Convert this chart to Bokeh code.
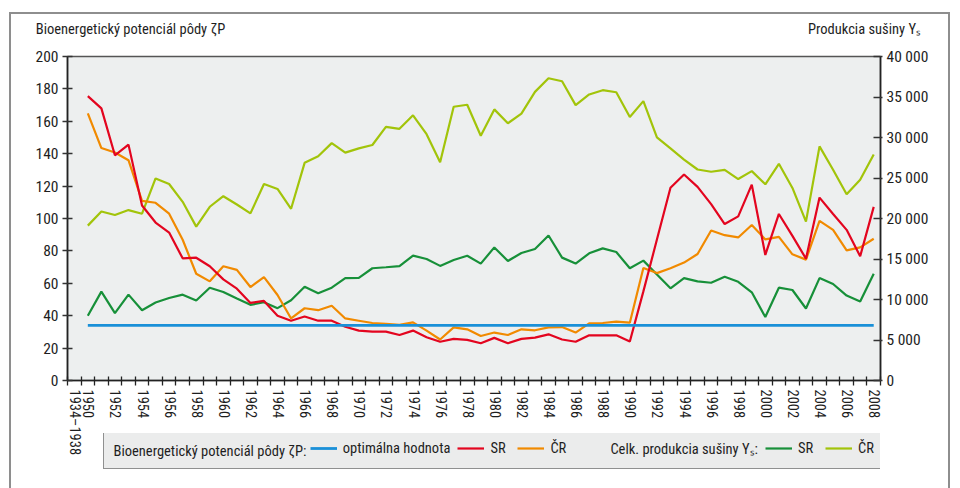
from bokeh.plotting import figure
from bokeh.layouts import column
from bokeh.models import Range1d, LinearAxis, FixedTicker, Legend, LegendItem, Label
from bokeh.embed import file_html
from bokeh.resources import INLINE

# ---------------- data ----------------
categories = ["1934–1938"] + [str(y) for y in range(1950, 2009)]
years = [str(y) for y in range(1950, 2009)]
labeled = ["1934–1938"] + [str(y) for y in range(1950, 2009, 2)]

# Bioenergetický potenciál pôdy (left axis)
optimal_value = 34
bp_sr = [175.5, 168, 139, 145.6, 108, 97.5, 91.3, 75.4, 75.8, 70.5,
         62.4, 56.7, 47.9, 49.1, 40, 36.9, 39.5, 36.9, 36.9, 33.2,
         30.8, 30.2, 30.2, 28.1, 30.8, 26.7, 23.9, 25.7, 25.1, 23,
         26.3, 23, 25.7, 26.5, 28.5, 25.3, 23.9, 27.9, 27.9, 27.9,
         24.1, 55, 87, 119, 127.2, 119.5, 108.9, 96.6, 101.3, 120.9,
         77.5, 102.8, 89.3, 75.2, 112.9, 102.8, 93, 76.7, 107.2]
bp_cr = [164.9, 143.5, 140.7, 136, 110.9, 109.7, 103, 86.9, 65.9, 61.2,
         70.5, 68.3, 57.7, 63.8, 52.8, 38.3, 44.6, 43.4, 46.1, 38.3,
         36.9, 35.5, 34.9, 34.3, 35.9, 30.8, 25.3, 32.8, 31.6, 27.5,
         29.6, 28.1, 31.6, 31, 32.8, 33, 29.6, 35.3, 35.5, 36.3,
         35.7, 69.5, 66.3, 69.3, 72.8, 78.1, 92.6, 89.7, 88.3, 96,
         87.1, 88.7, 77.9, 74.6, 98.5, 93, 80.3, 82.2, 87.5]

# Celková produkcia sušiny (right axis)
ys_sr = [7990, 10970, 8320, 10600, 8680, 9620, 10190, 10600, 9870, 11460,
         10930, 10110, 9340, 9660, 8930, 9910, 11580, 10760, 11460, 12640,
         12680, 13860, 13980, 14110, 15410, 15000, 14150, 14880, 15410, 14430,
         16430, 14760, 15740, 16230, 17900, 15170, 14430, 15700, 16310, 15860,
         13860, 14800, 13090, 11380, 12640, 12230, 12070, 12800, 12190, 10890,
         7830, 11460, 11170, 8890, 12640, 11910, 10480, 9740, 13170]
ys_cr = [19120, 20870, 20430, 21040, 20590, 24950, 24260, 22060, 19000, 21450,
         22750, 21730, 20630, 24260, 23650, 21200, 26870, 27680, 29310, 28130,
         28660, 29070, 31310, 31070, 32740, 30410, 26950, 33800, 34040, 30210,
         33470, 31760, 32940, 35630, 37310, 36940, 34000, 35310, 35840, 35590,
         32540, 34490, 30010, 28660, 27280, 26050, 25770, 26010, 24870, 25850,
         24220, 26750, 23770, 19610, 28910, 26010, 22990, 24790, 27890]

left_ticks = list(range(0, 201, 20))
right_ticks = list(range(0, 40001, 5000))

left_title = "Bioenergetický potenciál pôdy ζP"
right_title = "Produkcia sušiny Yₛ"
legend_title = "Bioenergetický potenciál pôdy ζP:"

# ---------------- style ----------------
FONT = "Roboto Condensed"
TXT = "#1e1e1e"
C_OPT = "#1a90d8"
C_SR = "#e3051f"
C_CR = "#f18a00"
C_YSR = "#179039"
C_YCR = "#a2c40a"
FS = 14.5
GRAY = "#8e8e8e"

W, H = 952, 458
BL, BR, BT, BB = 67, 72, 56, 75
LEG_H, LEG_OVERLAP = 55, 25
CAP_H, CAP_SHIFT = 20, 47

xs = [categories.index(y) for y in years]
x0, x1 = -0.5, len(categories) - 0.5

p = figure(width=W, height=H, title=None,
           x_range=Range1d(x0, x1), y_range=Range1d(0, 200),
           output_backend="svg", toolbar_location=None,
           min_border_left=BL, min_border_right=BR,
           min_border_top=BT, min_border_bottom=BB,
           background_fill_color="#edefef",
           border_fill_color="white", border_fill_alpha=0)
p.extra_y_ranges = {"prod": Range1d(0, 40000)}
p.grid.visible = False
p.outline_line_color = "#555555"
p.outline_line_width = 1.5

# x axis
xa = p.xaxis[0]
xa.ticker = FixedTicker(ticks=[categories.index(c) for c in labeled],
                        minor_ticks=[i - 0.5 for i in range(len(categories) + 1)])
xa.major_label_overrides = {categories.index(c): c for c in labeled}
xa.major_label_orientation = "vertical"
xa.major_tick_line_color = None
xa.major_tick_out = 4
xa.major_tick_in = 0
xa.major_label_standoff = 4
xa.minor_tick_in = 4
xa.minor_tick_out = 5
xa.minor_tick_line_color = "#222222"
xa.minor_tick_line_width = 1.3
xa.axis_line_color = "#222222"
xa.axis_line_width = 1.6
xa.major_label_text_font = FONT
xa.major_label_text_font_size = "14.5px"
xa.major_label_text_color = TXT

# left axis
ya = p.yaxis[0]
ya.ticker = FixedTicker(ticks=left_ticks)
ya.major_tick_in = 5
ya.major_tick_out = 5
ya.major_tick_line_color = "#333333"
ya.major_tick_line_width = 1.3
ya.minor_tick_line_color = None
ya.axis_line_color = "#222222"
ya.axis_line_width = 1.6
ya.major_label_standoff = 4
ya.major_label_text_font = FONT
ya.major_label_text_font_size = "15.5px"
ya.major_label_text_color = TXT

# right axis
ra = LinearAxis(y_range_name="prod", ticker=FixedTicker(ticks=right_ticks))
ra.major_label_overrides = {v: f"{v:,}".replace(",", " ") for v in right_ticks}
ra.major_tick_in = 7
ra.major_tick_out = 2
ra.major_tick_line_color = "#333333"
ra.major_tick_line_width = 1.3
ra.minor_tick_line_color = None
ra.axis_line_color = "#222222"
ra.axis_line_width = 1.6
ra.major_label_standoff = 4
ra.major_label_text_font = FONT
ra.major_label_text_font_size = "15.5px"
ra.major_label_text_color = TXT
p.add_layout(ra, "right")

# axis headings: an unlabeled top axis whose two tick labels are the headings
frame_w = W - BL - BR
to_x = lambda px: x0 + (px - BL) / frame_w * (x1 - x0)
W1_EST, W2_EST = 190, 110
t_left = round(to_x(35 + W1_EST / 2), 3)
t_right = round(to_x(919 - W2_EST / 2), 3)
ha = LinearAxis(ticker=FixedTicker(ticks=[t_left, t_right], minor_ticks=[]))
ha.major_label_overrides = {t_left: left_title, t_right: right_title}
ha.axis_line_color = None
ha.major_tick_line_color = None
ha.minor_tick_line_color = None
ha.major_tick_in = 0
ha.major_tick_out = 0
ha.major_label_standoff = 19
ha.major_label_text_font = FONT
ha.major_label_text_font_size = f"{FS}px"
ha.major_label_text_color = TXT
p.add_layout(ha, "above")

# series
p.line(xs, ys_cr, y_range_name="prod", line_color=C_YCR, line_width=2.2)
p.line(xs, ys_sr, y_range_name="prod", line_color=C_YSR, line_width=2.2)
p.line(xs, bp_cr, line_color=C_CR, line_width=2.2)
p.line(xs, bp_sr, line_color=C_SR, line_width=2.2)
p.line([xs[0], xs[-1]], [optimal_value, optimal_value], line_color=C_OPT, line_width=2.8)

# ---------------- legend strip (second figure, overlapping the axis area) ----------------
q = figure(width=W, height=LEG_H, x_range=Range1d(BL, W - BR), y_range=Range1d(0, LEG_H),
           output_backend="svg", toolbar_location=None,
           x_axis_location=None, y_axis_location=None,
           min_border_left=BL, min_border_right=BR, min_border_top=0, min_border_bottom=0,
           background_fill_alpha=0, border_fill_alpha=0)
q.outline_line_color = None
q.grid.visible = False
q.styles = {"margin-top": f"-{LEG_OVERLAP}px"}

# legend swatch renderers (kept outside the visible range)
off = dict(x=[-9999, -9998], y=[-9999, -9999])
k_opt = q.line(**off, line_color=C_OPT, line_width=2.8)
k_sr = q.line(**off, line_color=C_SR, line_width=2.2)
k_cr = q.line(**off, line_color=C_CR, line_width=2.2)
k_ysr = q.line(**off, line_color=C_YSR, line_width=2.2)
k_ycr = q.line(**off, line_color=C_YCR, line_width=2.2)
k_none = q.line(**off, line_alpha=0)

spacer = "\u2002" * 24   # room for the group caption drawn on top
legend = Legend(items=[
    LegendItem(label=spacer, renderers=[k_none]),
    LegendItem(label="optimálna hodnota", renderers=[k_opt]),
    LegendItem(label="SR", renderers=[k_sr]),
    LegendItem(label="ČR", renderers=[k_cr]),
    LegendItem(label="Celk. produkcia sušiny Yₛ:", renderers=[k_none]),
    LegendItem(label="SR", renderers=[k_ysr]),
    LegendItem(label="ČR", renderers=[k_ycr]),
], orientation="horizontal", location=(103 - BL, LEG_H - 36), margin=0)
legend.label_text_font = FONT
legend.label_text_font_size = f"{FS}px"
legend.label_text_color = TXT
legend.label_standoff = 6
legend.glyph_width = 27
legend.glyph_height = 16
legend.label_height = 16
legend.spacing = 7
legend.padding = 10
legend.background_fill_color = "#ebecec"
legend.background_fill_alpha = 1
legend.border_line_color = "#333333"
legend.border_line_width = 1.2
q.add_layout(legend)

# ---------------- caption of the first legend group (third strip, on top) ----------------
r = figure(width=W, height=CAP_H, x_range=Range1d(BL, W - BR), y_range=Range1d(0, CAP_H),
           output_backend="svg", toolbar_location=None,
           x_axis_location=None, y_axis_location=None,
           min_border_left=BL, min_border_right=BR, min_border_top=0, min_border_bottom=0,
           background_fill_alpha=0, border_fill_alpha=0)
r.outline_line_color = None
r.grid.visible = False
r.styles = {"margin-top": f"-{CAP_SHIFT}px", "margin-bottom": f"{CAP_SHIFT - CAP_H}px"}
r.add_layout(Label(x=113, y=CAP_H / 2, text=legend_title,
                   text_font=FONT, text_font_size=f"{FS}px", text_color=TXT,
                   text_align="left", text_baseline="middle"))

# thin outer frame of the whole picture, painted behind the transparent canvases
g = f"linear-gradient({GRAY}, {GRAY})"
layout = column(p, q, r, spacing=0,
                styles={"background": f"{g} 9px 12px / 2px 520px no-repeat, "
                                      f"{g} 9px 12px / 941px 2px no-repeat, "
                                      f"{g} 948px 12px / 2px 520px no-repeat, #ffffff"})

open("out.html", "w").write(file_html(layout, INLINE))
